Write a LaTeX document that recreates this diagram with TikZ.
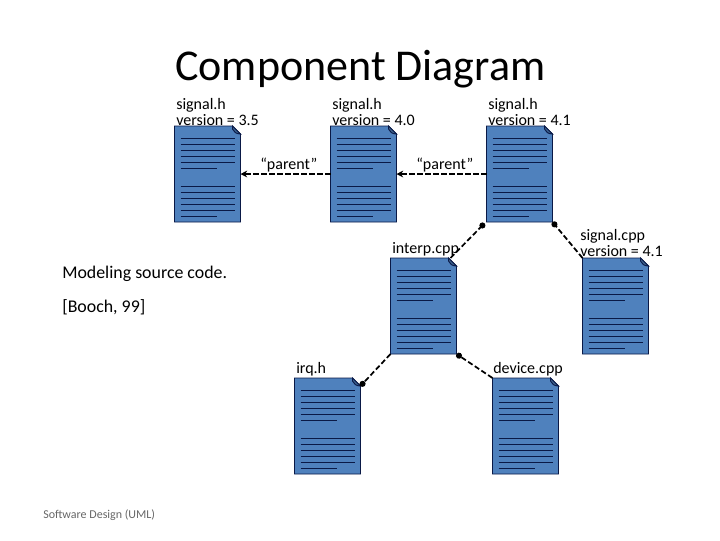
\documentclass[tikz,border=0pt]{standalone}
\usepackage{fontspec}
\setmainfont{Carlito}
\usetikzlibrary{arrows.meta}
\definecolor{docblue}{RGB}{79,129,189}
\definecolor{docline}{RGB}{10,25,70}
\tikzset{
  x=0.75pt,y=-0.75pt,
  doc/.style={minimum width=49.5pt,minimum height=72pt,inner sep=0pt,outer sep=0pt,draw=none},
  lab/.style={anchor=north west,inner sep=0pt,align=left,font=\fontsize{12}{12}\selectfont,text=black},
  big/.style={anchor=north west,inner sep=0pt,align=left,font=\fontsize{13.4}{14}\selectfont,text=black},
  dep/.style={line width=1.3pt,dash pattern=on 4pt off 2pt,-{Circle[length=4.5pt,width=4.5pt]}},
  par/.style={line width=1.3pt,dash pattern=on 4pt off 2pt,-{Stealth[length=5pt,width=5pt]}},
  body/.style={fill=docblue,draw=docline,line width=0.7pt},
  txtl/.style={draw=docline,line width=0.7pt}
}
\newcommand{\docshape}[1]{%
  \begin{scope}[shift={(#1.north west)}]
    \draw[body] (0,0) -- (58,0) -- (66,8) -- (66,96) -- (0,96) -- cycle;
    \draw[body,fill=docblue!75!black] (58,0) -- (58,3) .. controls (59,6) and (62,8) .. (66,8) -- cycle;
    \foreach \yy/\xe in {12.3/60,18.3/60,24.3/60,30.3/60,36.3/60,42.3/42,60.3/60,66.3/60,72.3/60,78.3/60,84.3/60,90.3/42}
      \draw[txtl] (6,\yy) -- (\xe,\yy);
  \end{scope}}
\begin{document}
\begin{tikzpicture}
\useasboundingbox (0,0) rectangle (720,540);
\node[doc] (d1) at (207.5,174) {};
\node[doc] (d2) at (363.5,174) {};
\node[doc] (d3) at (519.5,174) {};
\node[doc] (dI) at (423.5,306) {};
\node[doc] (dS) at (615.5,306) {};
\node[doc] (dQ) at (327.5,426) {};
\node[doc] (dD) at (525.5,426) {};
\docshape{d1}\docshape{d2}\docshape{d3}\docshape{dI}\docshape{dS}\docshape{dQ}\docshape{dD}
\node[anchor=west,inner sep=0pt,font=\fontsize{33}{34}\selectfont] (title) at (175,69) {Component Diagram};
\node[lab] (l1) at (176,98.5) {signal.h\\version = 3.5};
\node[lab] (l2) at (332,98.5) {signal.h\\version = 4.0};
\node[lab] (l3) at (488,98.5) {signal.h\\version = 4.1};
\node[lab] (l4) at (580,229.5) {signal.cpp\\version = 4.1};
\node[lab] (l5) at (392,242) {interp.cpp};
\node[lab] (l6) at (296,362) {irq.h};
\node[lab] (l7) at (493,362) {device.cpp};
\node[lab] (p1) at (260,158) {“parent”};
\node[lab] (p2) at (416,158) {“parent”};
\node[big] (m1) at (62,266) {Modeling source code.};
\node[big] (m2) at (62,299) {[Booch, 99]};
\node[anchor=west,inner sep=0pt,font=\fontsize{9}{10}\selectfont,text=black!60] (foot) at (43,515.5) {Software Design (UML)};
\draw[par] (d2.west) -- (d1.east);
\draw[par] (d3.west) -- (d2.east);
\draw[dep] ([xshift=-4.5pt]dI.north east) -- ([shift={(-1.5pt,-1pt)}]d3.south west);
\draw[dep] (dS.north west) -- (d3.south east);
\draw[dep] (dI.south west) -- ([yshift=-6pt]dQ.north east);
\draw[dep] (dD.north west) -- (dI.south east);
\end{tikzpicture}
\end{document}
